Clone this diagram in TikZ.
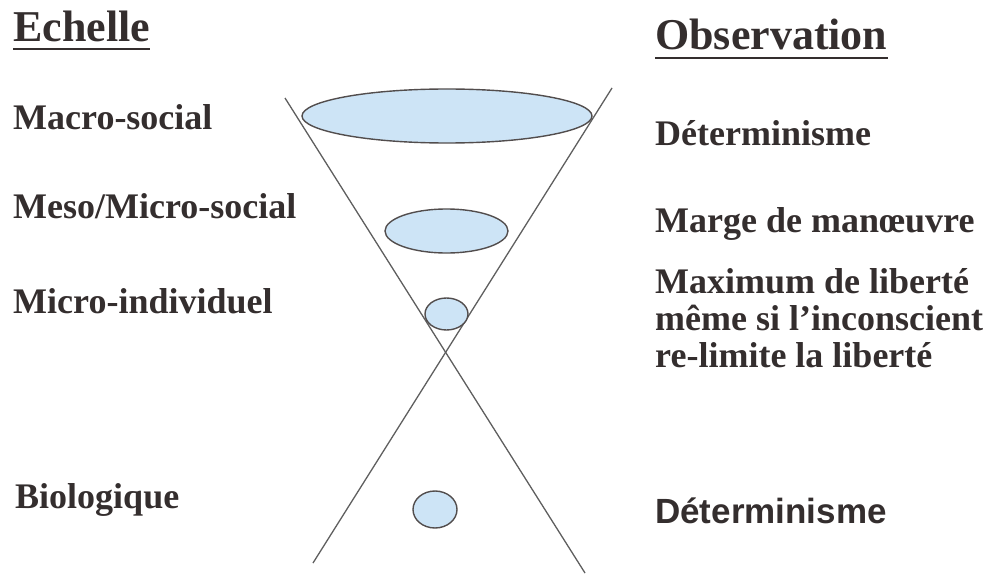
\documentclass[tikz,border=0pt]{standalone}
\usepackage{fontspec}
\setmainfont{Liberation Serif}
\newfontfamily\arialfont{Liberation Sans}
\usepackage{xcolor}
\definecolor{encre}{RGB}{52,46,46}
\definecolor{trait}{RGB}{95,95,95}
\definecolor{bleu}{RGB}{205,228,246}

\begin{document}
\begin{tikzpicture}[x=1pt,y=-1pt,
  titre/.style={anchor=base west,inner sep=0pt,text=encre,font=\fontsize{44}{48}\selectfont\bfseries},
  etiq/.style={anchor=base west,inner sep=0pt,text=encre,font=\fontsize{36}{37}\selectfont\bfseries},
  bulle/.style={draw=encre!85,line width=1.4pt,fill=bleu}]
\useasboundingbox (0,0) rectangle (995,575);
\coordinate (hg) at (285,98); \coordinate (bd) at (585,573);
\coordinate (hd) at (612,88); \coordinate (bg) at (313,563);
\draw[trait,line width=1.3pt] (hg) -- (bd); \draw[trait,line width=1.3pt] (hd) -- (bg);
\draw[bulle] (447,116) ellipse (145 and 27);
\draw[bulle] (446.5,231) ellipse (61.5 and 22);
\draw[bulle] (446.5,314) ellipse (21.5 and 16);
\draw[bulle] (435,509.5) ellipse (22 and 18.5);
\node[titre] (echelle) at (13,42) {Echelle};
\node[titre] (observation) at (655,50) {Observation};
\draw[encre,line width=2.6pt] ([yshift=-7pt]echelle.base west) -- ([yshift=-7pt]echelle.base east);
\draw[encre,line width=2.6pt] ([yshift=-8pt]observation.base west) -- ([yshift=-8pt]observation.base east);
\node[etiq] (macro) at (13,129) {Macro-social};
\node[etiq] (meso) at (13,218) {Meso/Micro-social};
\node[etiq] (indiv) at (13,313) {Micro-individuel};
\node[etiq] (bio) at (15,508) {Biologique};
\node[etiq] (determ) at (655,145) {Déterminisme};
\node[etiq] (marge) at (655,232) {Marge de manœuvre};
\node[etiq,align=left,anchor=north west] (liberte) at (655,268) {Maximum de liberté\\même si l’inconscient\\re-limite la liberté};
\node[etiq,font=\arialfont\fontsize{35}{37}\selectfont\bfseries] (determbio) at (655,523) {Déterminisme};
\end{tikzpicture}
\end{document}
